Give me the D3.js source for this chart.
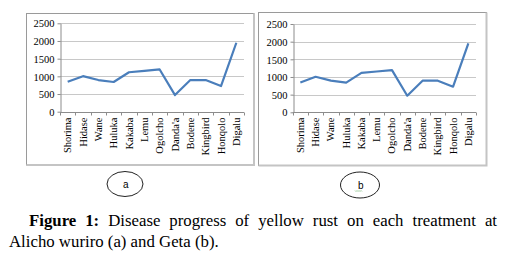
<!DOCTYPE html>
<html>
<head>
<meta charset="utf-8">
<script src="https://cdn.jsdelivr.net/npm/d3@7"></script>
<style>
  body { margin: 0; background: #fff; }
  svg { display: block; }
</style>
</head>
<body>
<div id="chart"></div>
<script>
// Treatments (varieties) on the x axis
const categories = ["Shorima", "Hidase", "Wane", "Huluka", "Kakaba", "Lemu", "Ogolcho",
  "Danda'a", "Bodene", "Kingbird", "Honqolo", "Digalu"];
// Disease progress, Alicho wuriro (a)
const valuesA = [845, 1005, 895, 840, 1115, 1155, 1195, 470, 895, 895, 725, 1950];
// Disease progress, Geta (b)
const valuesB = [845, 1005, 895, 840, 1115, 1155, 1195, 470, 895, 895, 725, 1950];
const yTicks = [0, 500, 1000, 1500, 2000, 2500];
const panelLabels = ["a", "b"];

const serif = "'Liberation Serif', 'Times New Roman', serif";
const svg = d3.select("#chart").append("svg").attr("width", 509).attr("height", 262);

// frame + plot box per panel
const panels = [
  { frame: [26.5, 13.5, 254, 165], plot: { x0: 60, x1: 244, y0: 111.7, y1: 23.3 }, values: valuesA,
    badge: { cx: 125, cy: 184, rx: 18, ry: 12.5 } },
  { frame: [258.5, 12.5, 486.5, 165.5], plot: { x0: 292.7, x1: 476, y0: 112.3, y1: 24 }, values: valuesB,
    badge: { cx: 360, cy: 185, rx: 19.5, ry: 13 } }
];

panels.forEach((p, i) => {
  const g = svg.append("g");
  const [fx0, fy0, fx1, fy1] = p.frame;

  // chart frame: thin edge left/top, heavier shadow right/bottom
  g.append("rect").attr("x", fx0).attr("y", fy0).attr("width", fx1 - fx0).attr("height", fy1 - fy0)
    .attr("fill", "#fff").attr("stroke", "#9a9a9a").attr("stroke-width", 1);
  g.append("path")
    .attr("d", `M${fx1},${fy0} V${fy1} H${fx0}`)
    .attr("fill", "none").attr("stroke", "#c4c4c4").attr("stroke-width", 2);

  const x = d3.scaleBand().domain(categories).range([p.plot.x0, p.plot.x1]);
  const y = d3.scaleLinear().domain([0, 2500]).range([p.plot.y0, p.plot.y1]);

  // gridlines
  g.append("g").selectAll("line").data(yTicks.slice(1)).join("line")
    .attr("x1", p.plot.x0).attr("x2", p.plot.x1)
    .attr("y1", d => Math.round(y(d)) + 0.5).attr("y2", d => Math.round(y(d)) + 0.5)
    .attr("stroke", "#c8c8c8").attr("stroke-width", 1);

  // y axis
  const yAxis = g.append("g").attr("transform", `translate(${Math.round(p.plot.x0) + 0.5},0)`)
    .call(d3.axisLeft(y).tickValues(yTicks).tickFormat(d3.format("d"))
      .tickSize(3).tickPadding(3).tickSizeOuter(0));
  yAxis.selectAll("line, path").attr("stroke", "#8c8c8c");
  yAxis.selectAll("text").attr("dy", "0.35em")
    .attr("font-family", serif).attr("font-size", 10.5).attr("fill", "#000");

  // x axis: ticks on band boundaries
  const xg = g.append("g").attr("transform", `translate(0,${Math.round(p.plot.y0) + 0.5})`);
  xg.append("line").attr("x1", p.plot.x0).attr("x2", p.plot.x1).attr("stroke", "#8c8c8c");
  xg.selectAll("line.b").data(d3.range(categories.length + 1)).join("line").attr("class", "b")
    .attr("x1", d => Math.round(p.plot.x0 + d * x.step()) + 0.5)
    .attr("x2", d => Math.round(p.plot.x0 + d * x.step()) + 0.5)
    .attr("y1", 0).attr("y2", 3).attr("stroke", "#8c8c8c");
  xg.selectAll("text").data(categories).join("text")
    .attr("transform", d => `translate(${x(d) + x.bandwidth() / 2 + 3.5},5) rotate(-90)`)
    .attr("text-anchor", "end")
    .attr("font-family", serif)
    .attr("font-size", 10.5)
    .text(d => d);

  // series line
  const line = d3.line()
    .x((d, j) => x(categories[j]) + x.bandwidth() / 2)
    .y(d => y(d));
  g.append("path").datum(p.values).attr("d", line)
    .attr("fill", "none").attr("stroke", "#4a7ebb").attr("stroke-width", 2.2)
    .attr("stroke-linejoin", "round");

  // panel badge
  const b = p.badge;
  svg.append("ellipse").attr("cx", b.cx).attr("cy", b.cy).attr("rx", b.rx).attr("ry", b.ry)
    .attr("fill", "#fff").attr("stroke", "#222").attr("stroke-width", 1);
  svg.append("text").attr("x", b.cx - 2).attr("y", b.cy + 3.5)
    .attr("font-family", "'Liberation Sans', Arial, sans-serif").attr("font-size", 10)
    .text(panelLabels[i]);
});

// green spell-check squiggle under "b"
svg.append("path")
  .attr("d", d3.range(0, 8, 1).map((k, j) => `${j ? "L" : "M"}${355 + k},${k % 2 ? 191.5 : 190.5}`).join(""))
  .attr("fill", "none").attr("stroke", "#7ab87a").attr("stroke-width", 0.7);

// caption, justified first line
const cap1 = [["Figure", true], ["1:", true], ["Disease", false], ["progress", false], ["of", false],
  ["yellow", false], ["rust", false], ["on", false], ["each", false], ["treatment", false], ["at", false]];
const words = svg.append("g").selectAll("text").data(cap1).join("text")
  .attr("y", 226).attr("font-family", serif).attr("font-size", 16.8)
  .attr("font-weight", d => d[1] ? "bold" : "normal")
  .text(d => d[0]);
const widths = words.nodes().map(n => n.getComputedTextLength());
const left = 29, right = 497;
const gap = (right - left - d3.sum(widths)) / (cap1.length - 1);
let cx = left;
words.attr("x", (d, j) => { const v = cx; cx += widths[j] + gap; return v; });

svg.append("text").attr("x", 9).attr("y", 247).attr("font-family", serif).attr("font-size", 16.8)
  .text("Alicho wuriro (a) and Geta (b).");
</script>
</body>
</html>
